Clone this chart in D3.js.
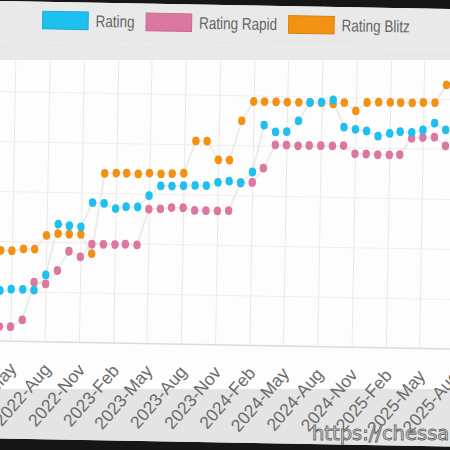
<!DOCTYPE html>
<html>
<head>
<meta charset="utf-8">
<script src="https://cdn.jsdelivr.net/npm/d3@7"></script>
<style>
  html, body { margin: 0; padding: 0; background: #161616; }
  svg { display: block; }
</style>
</head>
<body>
<div id="chart"></div>
<script>
// monthly ratings, Apr 2022 - Jul 2025
const months = [
  "2022-04","2022-05","2022-06","2022-07","2022-08","2022-09","2022-10","2022-11","2022-12",
  "2023-01","2023-02","2023-03","2023-04","2023-05","2023-06","2023-07","2023-08","2023-09","2023-10","2023-11","2023-12",
  "2024-01","2024-02","2024-03","2024-04","2024-05","2024-06","2024-07","2024-08","2024-09","2024-10","2024-11","2024-12",
  "2025-01","2025-02","2025-03","2025-04","2025-05","2025-06","2025-07"
];
const rating = [901, 904, 904, 903, 934, 1036, 1033, 1031, 1080, 1079, 1069, 1073, 1073, 1096, 1116, 1116, 1117, 1118, 1118, 1125,
  1128, 1125, 1147, 1241, 1228, 1229, 1251, 1288, 1289, 1294, 1240, 1236, 1233, 1223, 1229, 1233, 1232, 1237, 1251, 1238];
const ratingRapid = [829, 829, 843, 919, 916, 943, 982, 971, 997, 997, 997, 998, 997, 1069, 1070, 1073, 1073, 1068, 1068, 1068,
  1069, 1125, 1126, 1155, 1202, 1202, 1201, 1202, 1202, 1202, 1203, 1187, 1187, 1186, 1186, 1187, 1220, 1222, 1223, 1206];
const ratingBlitz = [981, 981, 985, 985, 1013, 1017, 1016, 1016, 978, 1139, 1140, 1140, 1139, 1141, 1140, 1141, 1142, 1207, 1207, 1170,
  1170, 1249, 1288, 1288, 1288, 1288, 1288, 1288, 1288, 1286, 1289, 1273, 1290, 1291, 1291, 1291, 1291, 1292, 1292, 1328];

const tickMonths = ["2022-05","2022-08","2022-11","2023-02","2023-05","2023-08","2023-11",
  "2024-02","2024-05","2024-08","2024-11","2025-02","2025-05","2025-08"];
const yTicks = [800, 900, 1000, 1100, 1200, 1300, 1400];

const seriesNames = ["Rating", "Rating Rapid", "Rating Blitz"];
const seriesColors = ["#1ec0ef", "#db77a0", "#f39212"];
const seriesValues = [rating, ratingRapid, ratingBlitz];

const width = 450, height = 450;
const parseMonth = d3.timeParse("%Y-%m");
const dates = months.map(parseMonth);

const svg = d3.select("#chart").append("svg")
    .attr("width", width)
    .attr("height", height);

svg.append("rect").attr("width", width).attr("height", height).attr("fill", "#161616");

// the photographed screen is tilted by about one degree
const tilt = "rotate(1.02, 225, 225)";
svg.append("clipPath").attr("id", "screenClip")
  .append("rect")
    .attr("x", -40).attr("y", 5).attr("width", 530).attr("height", 437.5)
    .attr("transform", tilt);

const bg = svg.append("g").attr("clip-path", "url(#screenClip)");
bg.append("rect").attr("width", width).attr("height", height).attr("fill", "#fdfdfd");
bg.append("rect").attr("width", width).attr("height", 60).attr("fill", "#e9e9e9");
bg.append("rect").attr("y", 389).attr("width", width).attr("height", 61).attr("fill", "#e4e4e4");

const screen = svg.append("g").attr("transform", tilt);

const x = d3.scaleTime()
    .domain([dates[0], dates[dates.length - 1]])
    .range([1.2, 444]);
const y = d3.scaleLinear()
    .domain([800, 1400])
    .range([345, 45]);

const tickDates = tickMonths.map(parseMonth);

// vertical grid
screen.append("g")
    .attr("transform", "translate(0,345)")
    .call(d3.axisBottom(x).tickValues(tickDates).tickSize(-340).tickFormat(""))
    .call(g => g.select(".domain").remove())
    .call(g => g.selectAll("line").attr("stroke", "#e9e9e9"));

// horizontal grid
screen.append("g")
    .attr("transform", "translate(-40,0)")
    .call(d3.axisLeft(y).tickValues(yTicks.slice(1)).tickSize(-530).tickFormat(""))
    .call(g => g.select(".domain").remove())
    .call(g => g.selectAll("line").attr("stroke", "#eeeeee"));

// x axis
const xAxis = screen.append("g")
    .attr("transform", "translate(0,345)")
    .call(d3.axisBottom(x).tickValues(tickDates).tickFormat(d3.timeFormat("%Y-%b")).tickSize(0));
xAxis.select(".domain").remove();
xAxis.append("line")
    .attr("x1", -40).attr("x2", 490)
    .attr("stroke", "#dcdcdc").attr("stroke-width", 1.5);
xAxis.selectAll("text")
    .attr("y", 0)
    .attr("dy", 0)
    .attr("text-anchor", "end")
    .attr("transform", "translate(7,28) rotate(-50)")
    .style("font", "17.5px 'Liberation Sans', Arial, sans-serif")
    .attr("fill", "#6b6b6b");

// lines then points, last dataset drawn first
const line = d3.line()
    .x((d, i) => x(dates[i]))
    .y(d => y(d));

const order = [2, 1, 0];
order.forEach(k => {
  screen.append("path")
    .datum(seriesValues[k])
    .attr("fill", "none")
    .attr("stroke", "rgba(200,200,200,0.3)")
    .attr("stroke-width", 2)
    .attr("d", line);
});
order.forEach(k => {
  screen.append("g")
    .attr("fill", seriesColors[k])
    .selectAll("ellipse")
    .data(seriesValues[k])
    .join("ellipse")
      .attr("cx", (d, i) => x(dates[i]))
      .attr("cy", d => y(d))
      .attr("rx", 3.7)
      .attr("ry", 4.4);
});

// legend
const legend = screen.append("g").attr("transform", "translate(0,23.3)");
let lx = 39;
seriesNames.forEach((name, k) => {
  legend.append("rect")
    .attr("x", lx).attr("y", -8.8)
    .attr("width", 45.6).attr("height", 17.6)
    .attr("fill", seriesColors[k])
    .attr("stroke", d3.color(seriesColors[k]).darker(0.3))
    .attr("stroke-width", 1);
  const t = legend.append("text")
    .attr("x", 0).attr("y", 0)
    .attr("dy", "0.35em")
    .attr("transform", `translate(${lx + 53},0) scale(1,1.25)`)
    .style("font", "13.5px 'Liberation Sans', Arial, sans-serif")
    .attr("fill", "#666")
    .text(name);
  lx += 53 + t.node().getComputedTextLength() + 11.5;
});

// watermark over the photo
svg.append("text")
    .attr("x", 312).attr("y", 440)
    .style("font", "19.5px 'DejaVu Sans', sans-serif")
    .attr("fill", "#e2e2e2")
    .attr("stroke", "#6a6a6a")
    .attr("stroke-width", 0.9)
    .text("https://chessa");
</script>
</body>
</html>
